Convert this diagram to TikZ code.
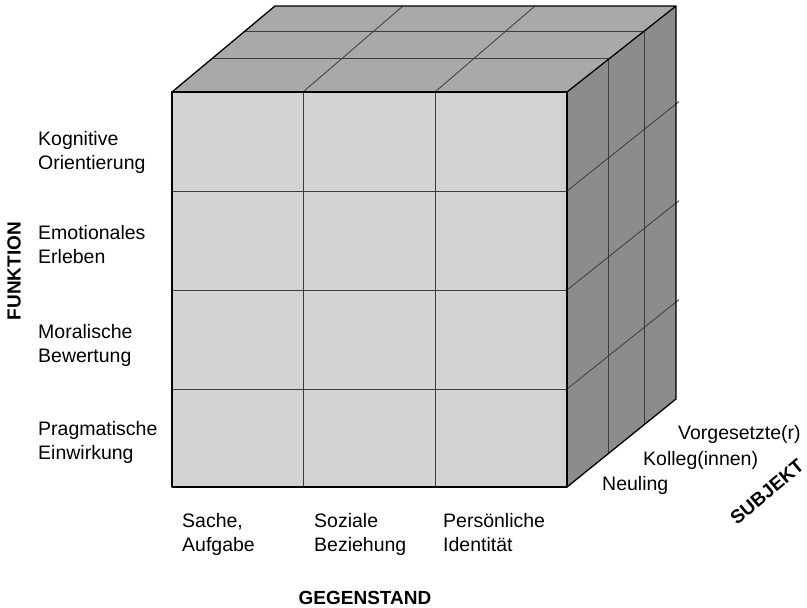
\documentclass[tikz,border=0pt]{standalone}
\usepackage{fontspec}
\setmainfont{Liberation Sans}
\usetikzlibrary{calc}

\definecolor{frontgray}{HTML}{D3D3D3}
\definecolor{topgray}{HTML}{A9A9A9}
\definecolor{sidegray}{HTML}{8C8C8C}
\definecolor{gridline}{HTML}{3C3C3C}

\tikzset{
  edge/.style={draw=black, line width=1.3pt, line join=round},
  cell/.style={draw=gridline, line width=0.8pt},
  lbl/.style={font=\fontsize{19.5}{24}\selectfont, align=left, anchor=base west, inner sep=0pt},
  axis/.style={font=\fontsize{19}{22}\selectfont\bfseries, inner sep=0pt},
}

\begin{document}
\begin{tikzpicture}[x=1pt, y=-1pt]
\useasboundingbox (0,0) rectangle (807,608);

% corners of the cube
\coordinate (FTL) at (172,92);
\coordinate (FTR) at (567,92);
\coordinate (FBL) at (172,487);
\coordinate (FBR) at (567,487);
\coordinate (BTL) at (275,6);
\coordinate (BTR) at (676,6);
\coordinate (BBR) at (676,399);

% faces
\fill[topgray] (FTL) -- (BTL) -- (BTR) -- (FTR) -- cycle;
\fill[sidegray] (FTR) -- (BTR) -- (BBR) -- (FBR) -- cycle;
\fill[frontgray] (FTL) rectangle (FBR);

% front grid: three columns, four rows
\foreach \x in {303,435} \draw[cell] (\x,92) -- (\x,487);
\foreach \y in {191,290,389} \draw[cell] (172,\y) -- (567,\y);

% top grid
\draw[cell] (303,92) -- (403,6);
\draw[cell] (435,92) -- (535,6);
\foreach \t in {0.395,0.71}
  \draw[cell] ($(FTL)!\t!(BTL)$) -- ($(FTR)!\t!(BTR)$);

% side grid
\foreach \t in {0.376,0.706}
  \draw[cell] ($(FTR)!\t!(BTR)$) -- ($(FBR)!\t!(BBR)$);
\foreach \y in {191,290,389}
  \draw[cell] (567,\y) -- (679,\y-89.4);

% outer edges
\draw[edge] (FTL) rectangle (FBR);
\draw[edge] (FTL) -- (BTL) -- (BTR) -- (FTR);
\draw[edge] (BTR) -- (BBR) -- (FBR);

% row labels (positions are last-line baselines)
\node[lbl] (kog) at (38,169) {Kognitive\\Orientierung};
\node[lbl] (emo) at (38,263) {Emotionales\\Erleben};
\node[lbl] (mor) at (38,362) {Moralische\\Bewertung};
\node[lbl] (pra) at (38,459) {Pragmatische\\Einwirkung};

% column labels
\node[lbl] (sac) at (182,551) {Sache,\\Aufgabe};
\node[lbl] (soz) at (314,551) {Soziale\\Beziehung};
\node[lbl] (per) at (443,551) {Persönliche\\Identität};

% depth labels
\node[lbl] (vor) at (678,439) {Vorgesetzte(r)};
\node[lbl] (kol) at (643,465) {Kolleg(innen)};
\node[lbl] (neu) at (602,490) {Neuling};

% axis titles
\node[axis, rotate=90] (fun) at (14,271) {FUNKTION};
\node[axis] (geg) at (365,598) {GEGENSTAND};
\node[axis, rotate=40] (sub) at (767,492) {SUBJEKT};
\end{tikzpicture}
\end{document}
